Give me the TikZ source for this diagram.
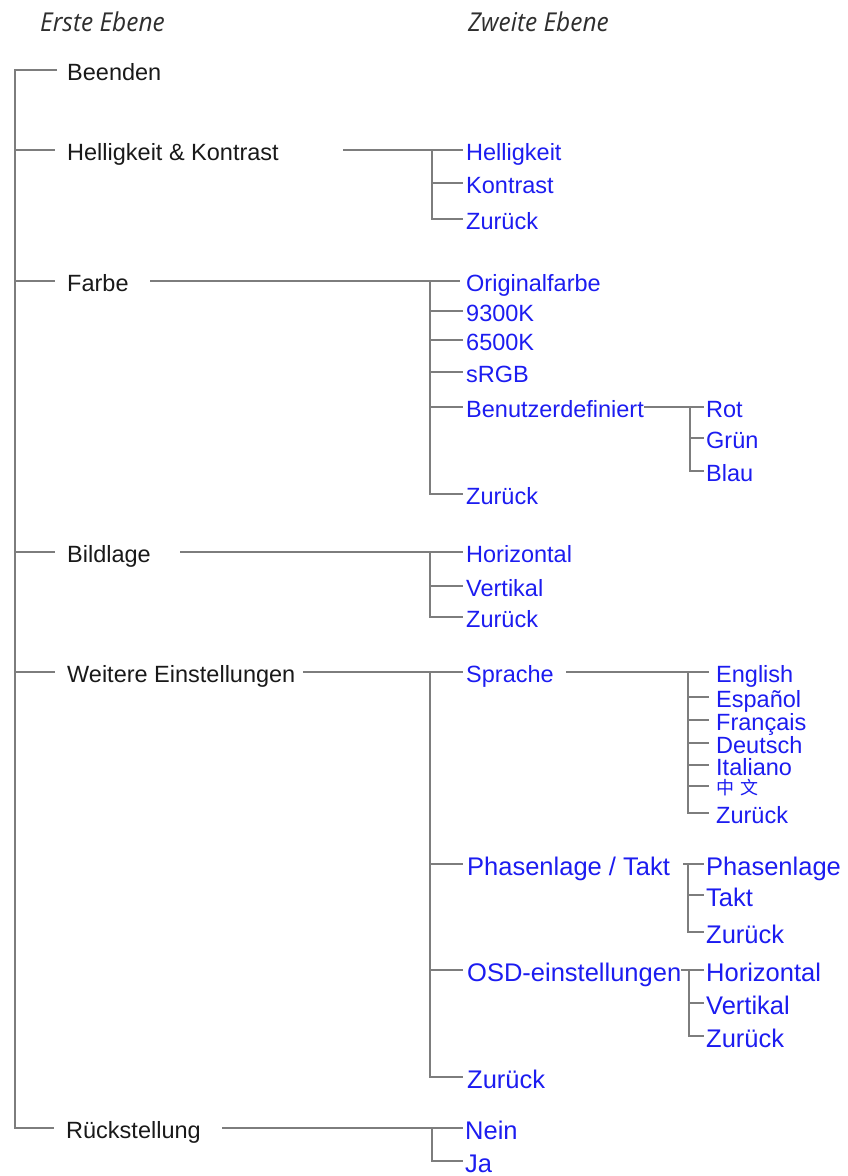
\documentclass[tikz,border=0pt]{standalone}
\usepackage{fontspec}
\setmainfont{Liberation Sans}
\newfontfamily\hdrfont[FakeStretch=0.94]{Open Sans}
\newfontfamily\cjkfont{Noto Sans CJK SC}
\definecolor{itemblue}{RGB}{28,28,240}
\definecolor{linegray}{RGB}{125,125,125}
\definecolor{textdark}{RGB}{25,25,25}
\tikzset{
  lone/.style={anchor=west, inner sep=0pt, text height=21pt, text depth=0pt,
    font=\fontsize{23.5}{24}\selectfont, text=textdark},
  ltwo/.style={lone, text=itemblue},
  lbig/.style={ltwo, text height=23pt, font=\fontsize{25.5}{26}\selectfont},
  ln/.style={draw=linegray, line width=1.4pt},
  hdr/.style={anchor=base west, inner sep=0pt, font=\hdrfont\itshape\fontsize{26}{28}\selectfont, text=black!82}
}
\begin{document}
\begin{tikzpicture}[x=1pt,y=-1pt]
\useasboundingbox (0,0) rectangle (848,1176);

% headers
\node[hdr] (h1) at (40,31) {Erste Ebene};
\node[hdr] (h2) at (468,31) {Zweite Ebene};

% level 1
\node[lone] (beenden) at (67,70) {Beenden};
\node[lone] (hk) at (67,150) {Helligkeit \& Kontrast};
\node[lone] (farbe) at (67,281) {Farbe};
\node[lone] (bild) at (67,552) {Bildlage};
\node[lone] (weitere) at (67,672) {Weitere Einstellungen};
\node[lone] (rueck) at (66,1128) {Rückstellung};

\coordinate (trunk) at (15,70);
\draw[ln] ([xshift=-10pt]beenden.west) -- (trunk) |- ([xshift=-12pt]rueck.west);
\draw[ln] (trunk |- hk.west) -- ([xshift=-12pt]hk.west);
\draw[ln] (trunk |- farbe.west) -- ([xshift=-12pt]farbe.west);
\draw[ln] (trunk |- bild.west) -- ([xshift=-12pt]bild.west);
\draw[ln] (trunk |- weitere.west) -- ([xshift=-12pt]weitere.west);

% Helligkeit & Kontrast
\coordinate (hkS) at (343,150);
\coordinate (hkJ) at (432,150);
\node[ltwo] (hk1) at (466,150) {Helligkeit};
\node[ltwo] (hk2) at (466,183) {Kontrast};
\node[ltwo] (hk3) at (466,219) {Zurück};
\draw[ln] (hkS) -- ([xshift=-3pt]hk1.west);
\draw[ln] (hkJ) |- ([xshift=-3pt]hk3.west);
\draw[ln] (hkJ |- hk2.west) -- ([xshift=-3pt]hk2.west);

% Farbe
\coordinate (faS) at (150,281);
\coordinate (faJ) at (430,281);
\node[ltwo] (fa1) at (466,281) {Originalfarbe};
\node[ltwo] (fa2) at (466,311) {9300K};
\node[ltwo] (fa3) at (466,340) {6500K};
\node[ltwo] (fa4) at (466,372) {sRGB};
\node[ltwo] (fa5) at (466,407) {Benutzerdefiniert};
\node[ltwo] (fa6) at (466,494) {Zurück};
\draw[ln] (faS) -- ([xshift=-6pt]fa1.west);
\draw[ln] (faJ) |- ([xshift=-3pt]fa6.west);
\foreach \n in {fa2,fa3,fa4,fa5} \draw[ln] (faJ |- \n.west) -- ([xshift=-3pt]\n.west);

% Benutzerdefiniert
\coordinate (buJ) at (690,407);
\node[ltwo] (bu1) at (706,407) {Rot};
\node[ltwo] (bu2) at (706,438) {Grün};
\node[ltwo] (bu3) at (706,471) {Blau};
\draw[ln] (fa5.east) -- ([xshift=-2pt]bu1.west);
\draw[ln] (buJ) |- ([xshift=-2pt]bu3.west);
\draw[ln] (buJ |- bu2.west) -- ([xshift=-2pt]bu2.west);

% Bildlage
\coordinate (biS) at (180,552);
\coordinate (biJ) at (430,552);
\node[ltwo] (bi1) at (466,552) {Horizontal};
\node[ltwo] (bi2) at (466,586) {Vertikal};
\node[ltwo] (bi3) at (466,617) {Zurück};
\draw[ln] (biS) -- ([xshift=-3pt]bi1.west);
\draw[ln] (biJ) |- ([xshift=-3pt]bi3.west);
\draw[ln] (biJ |- bi2.west) -- ([xshift=-3pt]bi2.west);

% Weitere Einstellungen
\coordinate (weS) at (303,672);
\coordinate (weJ) at (430,672);
\node[ltwo] (we1) at (466,672) {Sprache};
\node[lbig] (we2) at (467,864) {Phasenlage / Takt};
\node[lbig] (we3) at (467,970) {OSD-einstellungen};
\node[lbig] (we4) at (467,1077) {Zurück};
\draw[ln] (weS) -- ([xshift=-3pt]we1.west);
\draw[ln] (weJ) |- ([xshift=-4pt]we4.west);
\foreach \n in {we2,we3} \draw[ln] (weJ |- \n.west) -- ([xshift=-4pt]\n.west);

% Sprache
\coordinate (spS) at (566,672);
\coordinate (spJ) at (688,672);
\node[ltwo] (sp1) at (716,672) {English};
\node[ltwo] (sp2) at (716,697) {Español};
\node[ltwo] (sp3) at (716,720) {Français};
\node[ltwo] (sp4) at (716,743) {Deutsch};
\node[ltwo] (sp5) at (716,765) {Italiano};
\node[ltwo, text height=17pt, font=\cjkfont\fontsize{18}{19}\selectfont] (sp6) at (716,786) {中\hspace{6pt}文};
\node[ltwo] (sp7) at (716,813) {Zurück};
\draw[ln] (spS) -- ([xshift=-7pt]sp1.west);
\draw[ln] (spJ) |- ([xshift=-7pt]sp7.west);
\foreach \n in {sp2,sp3,sp4,sp5,sp6} \draw[ln] (spJ |- \n.west) -- ([xshift=-7pt]\n.west);

% Phasenlage / Takt
\coordinate (phS) at (683,864);
\coordinate (phJ) at (688,864);
\node[lbig] (ph1) at (706,864) {Phasenlage};
\node[lbig] (ph2) at (706,895) {Takt};
\node[lbig] (ph3) at (706,932) {Zurück};
\draw[ln] (phS) -- ([xshift=-2pt]ph1.west);
\draw[ln] (phJ) |- ([xshift=-2pt]ph3.west);
\draw[ln] (phJ |- ph2.west) -- ([xshift=-2pt]ph2.west);

% OSD-einstellungen
\coordinate (osJ) at (689,970);
\node[lbig] (os1) at (706,970) {Horizontal};
\node[lbig] (os2) at (706,1003) {Vertikal};
\node[lbig] (os3) at (706,1036) {Zurück};
\draw[ln] (we3.east) -- ([xshift=-2pt]os1.west);
\draw[ln] (osJ) |- ([xshift=-2pt]os3.west);
\draw[ln] (osJ |- os2.west) -- ([xshift=-2pt]os2.west);

% Rückstellung
\coordinate (rsS) at (222,1128);
\coordinate (rsJ) at (432,1128);
\node[lbig] (rs1) at (465,1128) {Nein};
\node[lbig] (rs2) at (465,1161) {Ja};
\draw[ln] (rsS) -- ([xshift=-2pt]rs1.west);
\draw[ln] (rsJ) |- ([xshift=-2pt]rs2.west);
\end{tikzpicture}
\end{document}
